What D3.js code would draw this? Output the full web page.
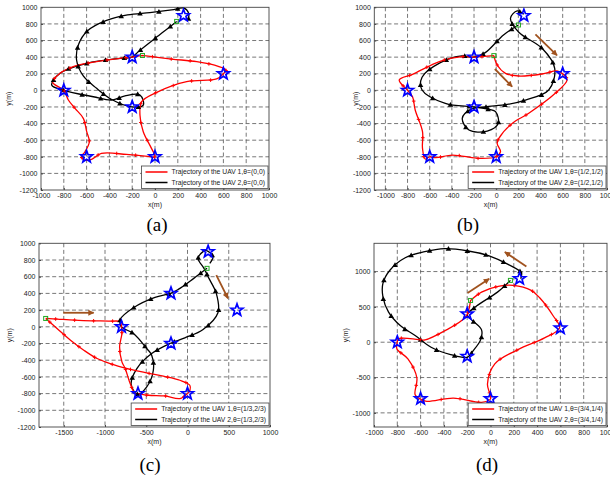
<!DOCTYPE html>
<html><head><meta charset="utf-8">
<script src="https://cdn.jsdelivr.net/npm/d3@7"></script>
<style>body{margin:0;background:#fff}svg{display:block}</style>
</head><body>
<svg id="c" width="610" height="480"></svg>
<script>
// ---------- data ----------
const waypoints = [[-200,400],[250,900],[600,200],[-800,0],[-200,-200],[-600,-800],[0,-800]];

const redA = [[-110,420],[146,377],[366,345],[555,290],[623,245],[600,200],[541,137],[278,104],[15,-24],[-117,-137],[-132,-297],[-103,-498],[-31,-699],[0,-800],[-60,-795],[-250,-772],[-470,-760],[-556,-831],[-620,-840],[-645,-795],[-614,-739],[-576,-619],[-599,-498],[-629,-337],[-702,-217],[-760,-116],[-800,0],[-897,96],[-833,205],[-717,285],[-599,325],[-307,386],[-200,400],[-110,420]];
const blackA = [[190,830],[57,687],[-147,466],[-200,400],[-307,386],[-599,325],[-833,205],[-906,64],[-800,0],[-541,-77],[-380,-117],[-263,-66],[-132,-56],[-103,-177],[-200,-200],[-380,-110],[-512,24],[-629,173],[-688,365],[-670,554],[-594,715],[-431,839],[-241,908],[-45,936],[146,968],[255,990],[295,930],[292,850]];
const startsA = [[190,830],[-110,420]];

const redB = [[-21,418],[9,305],[84,205],[204,173],[414,197],[549,233],[600,200],[639,125],[533,-36],[294,-276],[144,-398],[24,-578],[9,-639],[39,-739],[0,-800],[-156,-819],[-396,-779],[-546,-811],[-600,-800],[-641,-827],[-665,-698],[-665,-498],[-731,-237],[-755,-77],[-800,0],[-875,125],[-755,193],[-500,353],[-306,405],[-200,400],[-21,418]];
const blackB = [[201,787],[66,667],[-99,454],[-200,400],[-309,414],[-504,333],[-669,157],[-669,4],[-459,-157],[-200,-200],[-60,-230],[-6,-257],[18,-398],[-81,-490],[-246,-478],[-306,-337],[-230,-230],[-100,-200],[100,-170],[264,-117],[474,4],[528,265],[414,506],[204,699],[129,868],[189,956],[249,916]];
const startsB = [[201,787],[-21,418]];
const arrowsB = [[[354,675],[549,421]],[[-12,257],[144,44]]];

const redC = [[-1719,100],[-1578,92],[-1369,80],[-1157,72],[-936,68],[-815,60],[-800,0],[-795,-80],[-823,-240],[-795,-420],[-755,-500],[-695,-680],[-635,-800],[-600,-800],[-474,-820],[-273,-828],[-92,-860],[0,-800],[30,-760],[28,-700],[-92,-640],[-293,-592],[-494,-552],[-767,-492],[-916,-448],[-1096,-380],[-1257,-280],[-1418,-160],[-1558,-40],[-1719,100]];
const blackC = [[237,700],[76,580],[-112,448],[-205,400],[-394,352],[-655,228],[-815,88],[-800,0],[-655,-80],[-494,-260],[-434,-340],[-414,-520],[-494,-720],[-606,-808],[-683,-688],[-614,-500],[-434,-320],[-213,-200],[-32,-132],[189,-32],[369,168],[349,400],[260,580],[200,700],[129,820],[189,900],[230,912],[309,840],[270,760]];
const startsC = [[237,700],[-1719,100]];
const arrowsC = [[[-1506,168],[-1137,168]],[[349,620],[490,340]]];

const redD = [[-171,591],[-77,709],[66,790],[194,804],[350,733],[422,629],[536,378],[593,203],[464,61],[236,-104],[37,-307],[-26,-591],[-6,-733],[0,-804],[-77,-851],[-319,-790],[-547,-837],[-604,-804],[-647,-742],[-632,-506],[-709,-236],[-803,-95],[-803,-14],[-789,47],[-618,38],[-561,33],[-362,189],[-248,307],[-200,392],[-171,591]];
const blackD = [[171,875],[60,709],[-120,511],[-199,392],[-162,317],[-77,175],[-85,33],[-148,-118],[-199,-213],[-342,-175],[-510,-71],[-647,95],[-775,236],[-875,426],[-923,638],[-923,837],[-860,1026],[-732,1196],[-575,1277],[-390,1324],[-191,1291],[-6,1220],[151,1102],[265,979],[259,898]];
const startsD = [[171,875],[-171,591]];
const arrowsD = [[[308,1073],[123,1277]],[[-197,695],[-11,898]]];

const xTicksA = [-1000,-800,-600,-400,-200,0,200,400,600,800,1000];
const xTicksC = [-1500,-1000,-500,0,500,1000];
const yTicksABC = [-1200,-1000,-800,-600,-400,-200,0,200,400,600,800,1000];
const yTicksD = [-1000,-500,0,500,1000];
const thetas = ['(0,0)','(1/2,1/2)','(1/3,2/3)','(3/4,1/4)'];
const captions = ['(a)','(b)','(c)','(d)'];

// ---------- layout ----------
const panels = [
  {id:'a', rect:[41,7.3,269,190], xDom:[-1000,1000], yDom:[-1200,1000], xT:xTicksA, yT:yTicksABC, red:redA, black:blackA, starts:startsA, arrows:[], ylOff:30, cap:[157,231]},
  {id:'b', rect:[374.3,7.3,607,190], xDom:[-1100,1000], yDom:[-1200,1000], xT:xTicksA, yT:yTicksABC, red:redB, black:blackB, starts:startsB, arrows:arrowsB, ylOff:16, cap:[468,231]},
  {id:'c', rect:[39,243.3,270,427], xDom:[-1800,1000], yDom:[-1200,1000], xT:xTicksC, yT:yTicksABC, red:redC, black:blackC, starts:startsC, arrows:arrowsC, ylOff:27, cap:[150,471]},
  {id:'d', rect:[374,243.3,607,427], xDom:[-1000,1000], yDom:[-1200,1400], xT:xTicksA, yT:yTicksD, red:redD, black:blackD, starts:startsD, arrows:arrowsD, ylOff:26, cap:[487,471]}
];

const svg = d3.select('#c');
svg.append('rect').attr('width',610).attr('height',480).attr('fill','#fff');
const defs = svg.append('defs');
defs.append('marker').attr('id','ah').attr('viewBox','0 0 10 10').attr('refX',9).attr('refY',5)
  .attr('markerWidth',7).attr('markerHeight',6).attr('markerUnits','userSpaceOnUse').attr('orient','auto')
  .append('path').attr('d','M0,0L10,5L0,10z').attr('fill','#a0521e');

const font = "'Liberation Sans', Arial, sans-serif";
const starPath = (() => {
  const pts=[]; for(let i=0;i<10;i++){const r=i%2?2.6:6.3;const a=-Math.PI/2+i*Math.PI/5;pts.push([r*Math.cos(a),r*Math.sin(a)]);}
  return 'M'+pts.map(p=>p.join(',')).join('L')+'Z';
})();

function markersAlong(node, spacing, offset){
  const L=node.getTotalLength(); const out=[];
  for(let s=offset;s<L;s+=spacing){const p=node.getPointAtLength(s);out.push([p.x,p.y]);}
  return out;
}

panels.forEach((p,i)=>{
  const [x0,y0,x1,y1]=p.rect;
  const x=d3.scaleLinear().domain(p.xDom).range([x0,x1]);
  const y=d3.scaleLinear().domain(p.yDom).range([y1,y0]);
  const g=svg.append('g');
  g.append('clipPath').attr('id','clip'+p.id).append('rect').attr('x',x0).attr('y',y0).attr('width',x1-x0).attr('height',y1-y0);
  // grid
  g.append('g').selectAll('line').data(p.xT.filter(t=>x(t)>x0+1&&x(t)<x1-1)).join('line')
    .attr('x1',d=>x(d)).attr('x2',d=>x(d)).attr('y1',y0).attr('y2',y1)
    .attr('stroke','#555').attr('stroke-width',0.8).attr('stroke-dasharray','4,2.6');
  g.append('g').selectAll('line').data(p.yT.filter(t=>y(t)>y0+1&&y(t)<y1-1)).join('line')
    .attr('y1',d=>y(d)).attr('y2',d=>y(d)).attr('x1',x0).attr('x2',x1)
    .attr('stroke','#555').attr('stroke-width',0.8).attr('stroke-dasharray','4,2.6');
  // axes
  const fmt = d => String(d);
  const ax=g.append('g').attr('transform',`translate(0,${y1})`).call(d3.axisBottom(x).tickValues(p.xT).tickFormat(fmt).tickSize(-2).tickPadding(3.5));
  const ay=g.append('g').attr('transform',`translate(${x0},0)`).call(d3.axisLeft(y).tickValues(p.yT).tickFormat(fmt).tickSize(-2).tickPadding(3.5));
  [ax,ay].forEach(a=>{a.select('.domain').remove();a.selectAll('line').attr('stroke','#444');
    a.selectAll('text').attr('font-family',font).attr('font-size',7).attr('fill','#222');});
  g.append('rect').attr('x',x0).attr('y',y0).attr('width',x1-x0).attr('height',y1-y0)
    .attr('fill','none').attr('stroke','#444').attr('stroke-width',0.9);
  // axis titles
  g.append('text').attr('x',(x0+x1)/2).attr('y',y1+16.5).attr('text-anchor','middle')
    .attr('font-family',font).attr('font-size',7).attr('fill','#222').text('x(m)');
  g.append('text').attr('transform',`translate(${x0-p.ylOff},${(y0+y1)/2}) rotate(-90)`).attr('text-anchor','middle')
    .attr('font-family',font).attr('font-size',7).attr('fill','#222').text('y(m)');
  // data layer
  const dl=g.append('g').attr('clip-path',`url(#clip${p.id})`);
  const line=d3.line().x(d=>x(d[0])).y(d=>y(d[1])).curve(d3.curveCatmullRom.alpha(0.5));
  const bp=dl.append('path').datum(p.black).attr('d',line).attr('fill','none').attr('stroke','#000').attr('stroke-width',1.3);
  const rp=dl.append('path').datum(p.red).attr('d',line).attr('fill','none').attr('stroke','#f00').attr('stroke-width',1.3);
  dl.append('g').selectAll('path').data(markersAlong(bp.node(),19,8)).join('path')
    .attr('d',d3.symbol(d3.symbolTriangle,13)).attr('transform',d=>`translate(${d[0]},${d[1]+0.5})`).attr('fill','#000');
  dl.append('g').selectAll('path').data(markersAlong(rp.node(),19,10)).join('path')
    .attr('d','M-1.8,0H1.8M0,-1.8V1.8').attr('transform',d=>`translate(${d[0]},${d[1]})`).attr('stroke','#f00').attr('stroke-width',1);
  // start markers
  dl.append('g').selectAll('rect').data(p.starts).join('rect')
    .attr('x',d=>x(d[0])-2).attr('y',d=>y(d[1])-2).attr('width',4).attr('height',4)
    .attr('fill','none').attr('stroke','#2a2').attr('stroke-width',1);
  // waypoints
  dl.append('g').selectAll('path').data(waypoints).join('path').attr('d',starPath)
    .attr('transform',d=>`translate(${x(d[0])},${y(d[1])})`).attr('fill','none').attr('stroke','#0000ff').attr('stroke-width',1.7);
  // arrows
  dl.append('g').selectAll('line').data(p.arrows).join('line')
    .attr('x1',d=>x(d[0][0])).attr('y1',d=>y(d[0][1])).attr('x2',d=>x(d[1][0])).attr('y2',d=>y(d[1][1]))
    .attr('stroke','#a0521e').attr('stroke-width',1.8).attr('marker-end','url(#ah)');
  // legend
  const lg=g.append('g');
  const t1=lg.append('text').attr('font-family',font).attr('font-size',6.8).attr('fill','#222').text(`Trajectory of the UAV 1,θ=${thetas[i]}`);
  const t2=lg.append('text').attr('font-family',font).attr('font-size',6.8).attr('fill','#222').text(`Trajectory of the UAV 2,θ=${thetas[i]}`);
  const tw=Math.max(t1.node().getComputedTextLength(),t2.node().getComputedTextLength());
  const bw=tw+33, bh=22.5, bx=x1-1-bw, by=y1-1.5-bh;
  lg.insert('rect','text').attr('x',bx).attr('y',by).attr('width',bw).attr('height',bh).attr('fill','#fff').attr('stroke','#444').attr('stroke-width',0.8);
  [[t1,'#f00',6],[t2,'#000',16.5]].forEach(([t,c,dy])=>{
    lg.append('line').attr('x1',bx+4).attr('x2',bx+26).attr('y1',by+dy).attr('y2',by+dy).attr('stroke',c).attr('stroke-width',1.5);
    t.attr('x',bx+30).attr('y',by+dy+2.4);
  });
  // caption
  svg.append('text').attr('x',p.cap[0]).attr('y',p.cap[1]).attr('text-anchor','middle')
    .attr('font-family',"'Liberation Serif','Times New Roman',serif").attr('font-size',19).attr('fill','#000').text(captions[i]);
});
</script>
</body></html>
